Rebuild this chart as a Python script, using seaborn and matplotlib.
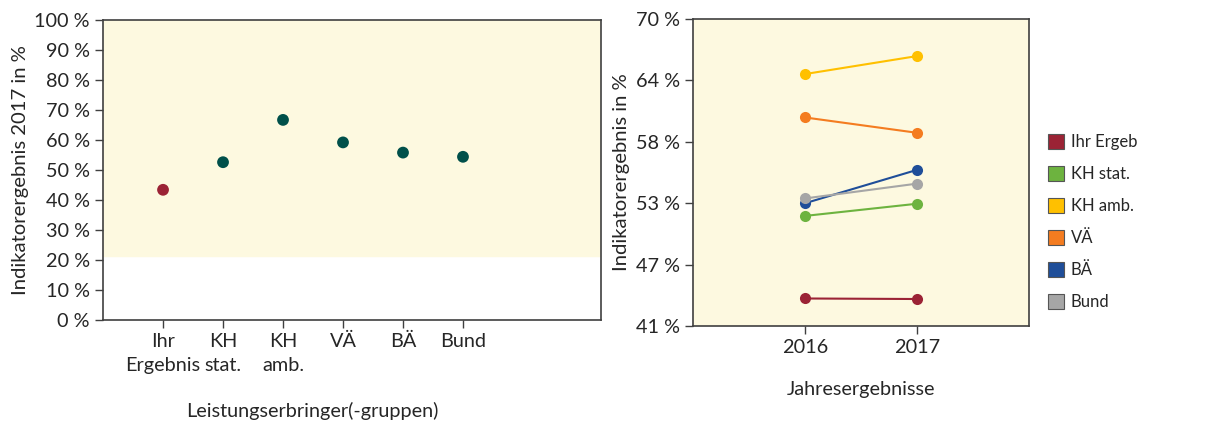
import numpy as np
import matplotlib
matplotlib.use('Agg')
import matplotlib.pyplot as plt
from matplotlib.patches import Patch
import pandas as pd
import seaborn as sns

sns.set_style("ticks")
plt.rcParams['font.family'] = ['Lato', 'DejaVu Sans']

''' DATA
'''
groups = ['Ihr Ergeb', 'KH stat.', 'KH amb.', 'VÄ', 'BÄ', 'Bund']
tick_labels = ['Ihr\nErgebnis', 'KH\nstat.', 'KH\namb.', 'VÄ', 'BÄ', 'Bund']
result_2017 = [43.4, 52.6, 66.7, 59.2, 55.8, 54.4]
years = [2016, 2017]
trend = {
    'Ihr Ergeb': [43.6, 43.55],
    'KH stat.': [51.4, 52.55],
    'KH amb.': [64.8, 66.5],
    'VÄ': [60.7, 59.25],
    'BÄ': [52.6, 55.75],
    'Bund': [53.05, 54.45],
}
ref_lower = 21.5

colors = ['#9B2335', '#6DB33F', '#FFC000', '#F47C20', '#1F4E99', '#A6A6A6']
point_colors = ['#9B2335'] + ['#00504A'] * 5
bg = '#FDF9E0'
txt = '#262626'
spine_c = '#404040'

fig = plt.figure(figsize=(12.18, 4.28), dpi=100)
ax1 = fig.add_axes([0.0846, 0.2523, 0.4088, 0.701])
ax2 = fig.add_axes([0.569, 0.2383, 0.2759, 0.7173])

#LEFT: RESULTS 2017
df1 = pd.DataFrame({'pos': np.arange(1, len(groups) + 1), 'val': result_2017, 'grp': groups})
ax1.axhspan(ref_lower, 100, color=bg, zorder=0)
sns.scatterplot(x='pos', y='val', data=df1, hue='grp', palette=dict(zip(groups, point_colors)),
                s=72, edgecolor='none', legend=False, ax=ax1, zorder=3)
ax1.set_xlim(0, 8.3)
ax1.set_ylim(0, 100)
ax1.set_yticks(np.arange(0, 101, 10))
ax1.set_yticklabels([f'{v} %' for v in range(0, 101, 10)])
ax1.set_xticks(df1['pos'])
ax1.set_xticklabels(tick_labels, linespacing=1.5)
ax1.set_ylabel('Indikatorergebnis 2017 in %', fontsize=14.6, color=txt)
ax1.set_xlabel('Leistungserbringer(-gruppen)', fontsize=14.3, color=txt, x=0.42, labelpad=20)

#RIGHT: TREND
rows = []
for g in groups:
    for y, v in zip(years, trend[g]):
        rows.append({'Jahr': y, 'val': v, 'grp': g})
df2 = pd.DataFrame(rows)
ax2.set_facecolor(bg)
sns.lineplot(x='Jahr', y='val', data=df2, hue='grp', hue_order=groups, palette=dict(zip(groups, colors)),
             marker='o', markersize=8, markeredgecolor='none', linewidth=1.5, legend=False, ax=ax2)
ax2.set_xlim(2015, 2018)
yt = np.linspace(41, 70, 6)
ax2.set_ylim(41, 70)
ax2.set_yticks(yt)
ax2.set_yticklabels([f'{v:.0f} %' for v in yt])
ax2.set_xticks(years)
ax2.set_xticklabels([str(y) for y in years])
ax2.set_ylabel('Indikatorergebnis in %', fontsize=14.6, color=txt)
ax2.set_xlabel('Jahresergebnisse', fontsize=14.3, color=txt, labelpad=18)

for ax in [ax1, ax2]:
    for sp in ax.spines.values():
        sp.set_color(spine_c)
        sp.set_linewidth(1.2)
    ax.tick_params(labelsize=14.3, colors=txt, length=6, width=1, direction='out')
    ax.tick_params(color=spine_c)

handles = [Patch(facecolor=c, edgecolor='#555555', linewidth=0.8) for c in colors]
fig.legend(handles, groups, loc='upper left', bbox_to_anchor=(0.851, 0.715), frameon=False,
           fontsize=12, labelspacing=0.95, handlelength=0.95, handleheight=1.0,
           handletextpad=0.4, borderpad=0.2)

plt.savefig('out.png', dpi=100)
